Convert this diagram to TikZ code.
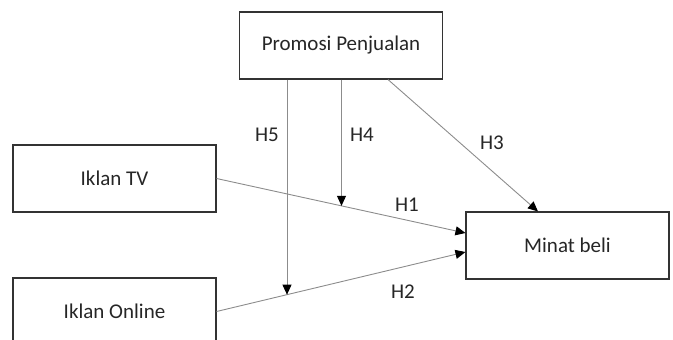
\documentclass[tikz,border=0pt]{standalone}
\usepackage{fontspec}
\setmainfont{Carlito}
\usetikzlibrary{calc,arrows.meta}

\tikzset{
  var/.style={draw=black!80,line width=1.1pt,minimum width=203pt,minimum height=67pt,
    inner sep=0pt,text=black!85,font=\fontsize{21}{25}\selectfont},
  hyp/.style={text=black!85,font=\fontsize{21}{25}\selectfont},
  link/.style={draw=black!45,line width=0.9pt,-{Triangle[length=10pt,width=9pt,black]}}
}

\begin{document}
\begin{tikzpicture}[x=1pt,y=-1pt]
        \useasboundingbox (0,0) rectangle (673,340);
        \clip (0,0) rectangle (673,340);
        \node[var] (PP) at (341,45.5) {Promosi Penjualan};
        \node[var] (TV) at (114.5,178.5) {Iklan TV};
        \node[var] (IO) at (114.5,311.5) {Iklan Online};
        \node[var] (MB) at (567.5,245.5) {Minat beli};
        \coordinate (M1) at ($(MB.west)+(0,-12.5)$);
        \coordinate (M2) at ($(MB.west)+(0,6.5)$);
        \coordinate (C4) at ($(TV.east)!0.502!(M1)$);
        \coordinate (C5) at ($(IO.east)!0.283!(M2)$);
        \draw[link] (TV.east) -- (M1);
        \draw[link] (IO.east) -- (M2);
        \draw[link] ($(PP.south)+(47,0)$) -- ($(MB.north)+(-29.5,0)$);
        \draw[link] (PP.south -| C4) -- (C4);
        \draw[link] (PP.south -| C5) -- (C5);
        \node[hyp] (H1) at (407,205) {H1};
        \node[hyp] (H2) at (403,292) {H2};
        \node[hyp] (H3) at (492,143) {H3};
        \node[hyp] (H4) at (362,135) {H4};
        \node[hyp] (H5) at (267,135) {H5};
      \end{tikzpicture}
\end{document}
